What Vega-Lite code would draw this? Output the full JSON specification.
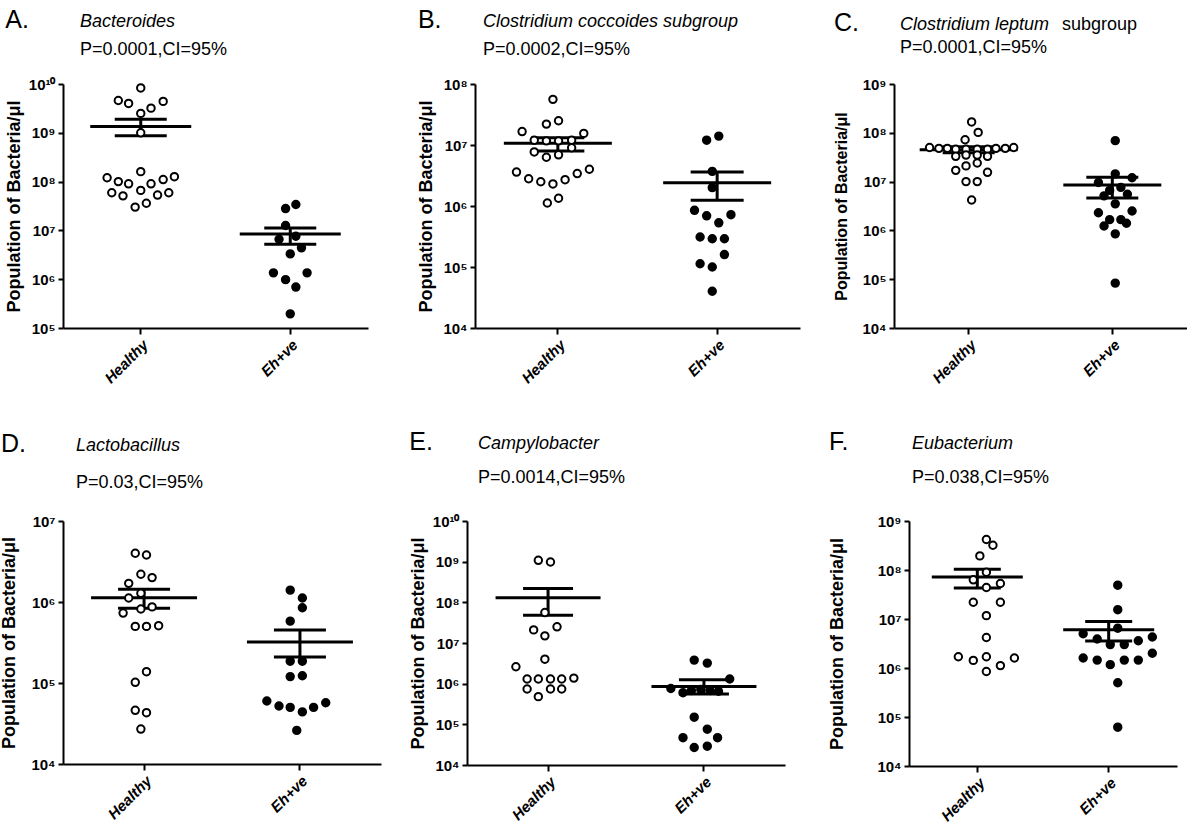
{
  "$schema": "https://vega.github.io/schema/vega-lite/v6.json",
  "background": "white",
  "padding": {"left": 0, "top": 8, "right": 0, "bottom": 0},
  "datasets": {
    "points": [
      {"panel":"A","group":"Healthy","jitter":0,"value":8.3e9},
      {"panel":"A","group":"Healthy","jitter":-24,"value":4.6e9},
      {"panel":"A","group":"Healthy","jitter":-13,"value":4.0e9},
      {"panel":"A","group":"Healthy","jitter":0,"value":2.5e9},
      {"panel":"A","group":"Healthy","jitter":11,"value":3.2e9},
      {"panel":"A","group":"Healthy","jitter":24,"value":4.4e9},
      {"panel":"A","group":"Healthy","jitter":0,"value":1.0e9},
      {"panel":"A","group":"Healthy","jitter":0,"value":1.6e8},
      {"panel":"A","group":"Healthy","jitter":-36,"value":1.2e8},
      {"panel":"A","group":"Healthy","jitter":-24,"value":1.0e8},
      {"panel":"A","group":"Healthy","jitter":-13,"value":9.0e7},
      {"panel":"A","group":"Healthy","jitter":11,"value":9.0e7},
      {"panel":"A","group":"Healthy","jitter":24,"value":1.1e8},
      {"panel":"A","group":"Healthy","jitter":36,"value":1.26e8},
      {"panel":"A","group":"Healthy","jitter":-31,"value":5.9e7},
      {"panel":"A","group":"Healthy","jitter":-19,"value":5.1e7},
      {"panel":"A","group":"Healthy","jitter":0,"value":6.6e7},
      {"panel":"A","group":"Healthy","jitter":18,"value":5.3e7},
      {"panel":"A","group":"Healthy","jitter":30,"value":5.9e7},
      {"panel":"A","group":"Healthy","jitter":-6,"value":3.0e7},
      {"panel":"A","group":"Healthy","jitter":6,"value":3.6e7},
      {"panel":"A","group":"Eh+ve","jitter":-5,"value":2.8e7},
      {"panel":"A","group":"Eh+ve","jitter":6,"value":3.4e7},
      {"panel":"A","group":"Eh+ve","jitter":-5,"value":1.26e7},
      {"panel":"A","group":"Eh+ve","jitter":-12,"value":6.6e6},
      {"panel":"A","group":"Eh+ve","jitter":6,"value":7.6e6},
      {"panel":"A","group":"Eh+ve","jitter":12,"value":4.4e6},
      {"panel":"A","group":"Eh+ve","jitter":0,"value":3.3e6},
      {"panel":"A","group":"Eh+ve","jitter":-18,"value":1.35e6},
      {"panel":"A","group":"Eh+ve","jitter":18,"value":1.35e6},
      {"panel":"A","group":"Eh+ve","jitter":-5,"value":9.8e5},
      {"panel":"A","group":"Eh+ve","jitter":6,"value":6.9e5},
      {"panel":"A","group":"Eh+ve","jitter":0,"value":1.95e5},

      {"panel":"B","group":"Healthy","jitter":0,"value":5.6e7},
      {"panel":"B","group":"Healthy","jitter":-7,"value":2.2e7},
      {"panel":"B","group":"Healthy","jitter":6,"value":2.5e7},
      {"panel":"B","group":"Healthy","jitter":-33,"value":1.66e7},
      {"panel":"B","group":"Healthy","jitter":33,"value":1.55e7},
      {"panel":"B","group":"Healthy","jitter":-20,"value":1.2e7},
      {"panel":"B","group":"Healthy","jitter":-7,"value":1.17e7},
      {"panel":"B","group":"Healthy","jitter":6,"value":1.17e7},
      {"panel":"B","group":"Healthy","jitter":20,"value":1.2e7},
      {"panel":"B","group":"Healthy","jitter":-20,"value":7.7e6},
      {"panel":"B","group":"Healthy","jitter":-7,"value":6.3e6},
      {"panel":"B","group":"Healthy","jitter":6,"value":6.9e6},
      {"panel":"B","group":"Healthy","jitter":20,"value":9.0e6},
      {"panel":"B","group":"Healthy","jitter":-39,"value":3.6e6},
      {"panel":"B","group":"Healthy","jitter":-26,"value":2.8e6},
      {"panel":"B","group":"Healthy","jitter":-13,"value":2.5e6},
      {"panel":"B","group":"Healthy","jitter":0,"value":2.3e6},
      {"panel":"B","group":"Healthy","jitter":13,"value":2.7e6},
      {"panel":"B","group":"Healthy","jitter":26,"value":3.4e6},
      {"panel":"B","group":"Healthy","jitter":39,"value":4.0e6},
      {"panel":"B","group":"Healthy","jitter":-6,"value":1.12e6},
      {"panel":"B","group":"Healthy","jitter":6,"value":1.34e6},
      {"panel":"B","group":"Eh+ve","jitter":-6,"value":1.2e7},
      {"panel":"B","group":"Eh+ve","jitter":7,"value":1.4e7},
      {"panel":"B","group":"Eh+ve","jitter":0,"value":3.7e6},
      {"panel":"B","group":"Eh+ve","jitter":0,"value":2.0e6},
      {"panel":"B","group":"Eh+ve","jitter":-19,"value":8.5e5},
      {"panel":"B","group":"Eh+ve","jitter":-6,"value":6.9e5},
      {"panel":"B","group":"Eh+ve","jitter":7,"value":5.3e5},
      {"panel":"B","group":"Eh+ve","jitter":20,"value":7.2e5},
      {"panel":"B","group":"Eh+ve","jitter":-13,"value":3.1e5},
      {"panel":"B","group":"Eh+ve","jitter":0,"value":2.9e5},
      {"panel":"B","group":"Eh+ve","jitter":13,"value":2.9e5},
      {"panel":"B","group":"Eh+ve","jitter":13,"value":1.6e5},
      {"panel":"B","group":"Eh+ve","jitter":-13,"value":1.13e5},
      {"panel":"B","group":"Eh+ve","jitter":0,"value":1.0e5},
      {"panel":"B","group":"Eh+ve","jitter":0,"value":4.0e4},

      {"panel":"C","group":"Healthy","jitter":0,"value":1.67e8},
      {"panel":"C","group":"Healthy","jitter":7,"value":1.02e8},
      {"panel":"C","group":"Healthy","jitter":-7,"value":7.2e7},
      {"panel":"C","group":"Healthy","jitter":-45,"value":5.0e7},
      {"panel":"C","group":"Healthy","jitter":-35,"value":4.8e7},
      {"panel":"C","group":"Healthy","jitter":-26,"value":4.8e7},
      {"panel":"C","group":"Healthy","jitter":-17,"value":4.6e7},
      {"panel":"C","group":"Healthy","jitter":-6,"value":4.6e7},
      {"panel":"C","group":"Healthy","jitter":6,"value":4.6e7},
      {"panel":"C","group":"Healthy","jitter":17,"value":4.6e7},
      {"panel":"C","group":"Healthy","jitter":26,"value":4.8e7},
      {"panel":"C","group":"Healthy","jitter":36,"value":4.8e7},
      {"panel":"C","group":"Healthy","jitter":45,"value":5.0e7},
      {"panel":"C","group":"Healthy","jitter":-17,"value":3.3e7},
      {"panel":"C","group":"Healthy","jitter":-6,"value":3.5e7},
      {"panel":"C","group":"Healthy","jitter":6,"value":3.5e7},
      {"panel":"C","group":"Healthy","jitter":17,"value":3.3e7},
      {"panel":"C","group":"Healthy","jitter":-6,"value":2.1e7},
      {"panel":"C","group":"Healthy","jitter":6,"value":2.4e7},
      {"panel":"C","group":"Healthy","jitter":-17,"value":1.7e7},
      {"panel":"C","group":"Healthy","jitter":17,"value":1.55e7},
      {"panel":"C","group":"Healthy","jitter":-6,"value":1.0e7},
      {"panel":"C","group":"Healthy","jitter":6,"value":1.0e7},
      {"panel":"C","group":"Healthy","jitter":0,"value":4.2e6},
      {"panel":"C","group":"Eh+ve","jitter":0,"value":6.9e7},
      {"panel":"C","group":"Eh+ve","jitter":0,"value":1.44e7},
      {"panel":"C","group":"Eh+ve","jitter":18,"value":1.2e7},
      {"panel":"C","group":"Eh+ve","jitter":-18,"value":9.6e6},
      {"panel":"C","group":"Eh+ve","jitter":6,"value":7.6e6},
      {"panel":"C","group":"Eh+ve","jitter":-6,"value":6.6e6},
      {"panel":"C","group":"Eh+ve","jitter":13,"value":5.5e6},
      {"panel":"C","group":"Eh+ve","jitter":-12,"value":5.1e6},
      {"panel":"C","group":"Eh+ve","jitter":0,"value":3.5e6},
      {"panel":"C","group":"Eh+ve","jitter":-18,"value":2.3e6},
      {"panel":"C","group":"Eh+ve","jitter":18,"value":2.5e6},
      {"panel":"C","group":"Eh+ve","jitter":-6,"value":1.66e6},
      {"panel":"C","group":"Eh+ve","jitter":6,"value":1.66e6},
      {"panel":"C","group":"Eh+ve","jitter":-12,"value":1.23e6},
      {"panel":"C","group":"Eh+ve","jitter":12,"value":1.4e6},
      {"panel":"C","group":"Eh+ve","jitter":0,"value":8.5e5},
      {"panel":"C","group":"Eh+ve","jitter":0,"value":8.3e4},

      {"panel":"D","group":"Healthy","jitter":-6,"value":4.0e6},
      {"panel":"D","group":"Healthy","jitter":6,"value":3.8e6},
      {"panel":"D","group":"Healthy","jitter":0,"value":2.2e6},
      {"panel":"D","group":"Healthy","jitter":12,"value":2.0e6},
      {"panel":"D","group":"Healthy","jitter":-13,"value":1.7e6},
      {"panel":"D","group":"Healthy","jitter":0,"value":1.28e6},
      {"panel":"D","group":"Healthy","jitter":-13,"value":1.12e6},
      {"panel":"D","group":"Healthy","jitter":0,"value":8.2e5},
      {"panel":"D","group":"Healthy","jitter":12,"value":8.7e5},
      {"panel":"D","group":"Healthy","jitter":-19,"value":7.3e5},
      {"panel":"D","group":"Healthy","jitter":-6,"value":5.0e5},
      {"panel":"D","group":"Healthy","jitter":6,"value":5.0e5},
      {"panel":"D","group":"Healthy","jitter":19,"value":5.1e5},
      {"panel":"D","group":"Healthy","jitter":6,"value":1.38e5},
      {"panel":"D","group":"Healthy","jitter":-6,"value":1.02e5},
      {"panel":"D","group":"Healthy","jitter":-6,"value":4.6e4},
      {"panel":"D","group":"Healthy","jitter":6,"value":4.3e4},
      {"panel":"D","group":"Healthy","jitter":0,"value":2.7e4},
      {"panel":"D","group":"Eh+ve","jitter":-7,"value":1.4e6},
      {"panel":"D","group":"Eh+ve","jitter":6,"value":1.12e6},
      {"panel":"D","group":"Eh+ve","jitter":6,"value":8.5e5},
      {"panel":"D","group":"Eh+ve","jitter":-7,"value":5.8e5},
      {"panel":"D","group":"Eh+ve","jitter":-7,"value":1.86e5},
      {"panel":"D","group":"Eh+ve","jitter":6,"value":1.86e5},
      {"panel":"D","group":"Eh+ve","jitter":-7,"value":1.2e5},
      {"panel":"D","group":"Eh+ve","jitter":6,"value":1.23e5},
      {"panel":"D","group":"Eh+ve","jitter":-32,"value":6.0e4},
      {"panel":"D","group":"Eh+ve","jitter":-19,"value":5.2e4},
      {"panel":"D","group":"Eh+ve","jitter":-7,"value":5.0e4},
      {"panel":"D","group":"Eh+ve","jitter":6,"value":4.4e4},
      {"panel":"D","group":"Eh+ve","jitter":18,"value":5.0e4},
      {"panel":"D","group":"Eh+ve","jitter":31,"value":5.7e4},
      {"panel":"D","group":"Eh+ve","jitter":0,"value":2.6e4},

      {"panel":"E","group":"Healthy","jitter":-7,"value":1.08e9},
      {"panel":"E","group":"Healthy","jitter":6,"value":9.8e8},
      {"panel":"E","group":"Healthy","jitter":0,"value":5.6e7},
      {"panel":"E","group":"Healthy","jitter":-12,"value":2.1e7},
      {"panel":"E","group":"Healthy","jitter":13,"value":2.5e7},
      {"panel":"E","group":"Healthy","jitter":0,"value":1.5e7},
      {"panel":"E","group":"Healthy","jitter":0,"value":4.0e6},
      {"panel":"E","group":"Healthy","jitter":-31,"value":2.6e6},
      {"panel":"E","group":"Healthy","jitter":-19,"value":1.3e6},
      {"panel":"E","group":"Healthy","jitter":-7,"value":1.3e6},
      {"panel":"E","group":"Healthy","jitter":6,"value":1.3e6},
      {"panel":"E","group":"Healthy","jitter":18,"value":1.3e6},
      {"panel":"E","group":"Healthy","jitter":31,"value":1.37e6},
      {"panel":"E","group":"Healthy","jitter":-19,"value":7.4e5},
      {"panel":"E","group":"Healthy","jitter":6,"value":7.4e5},
      {"panel":"E","group":"Healthy","jitter":18,"value":7.4e5},
      {"panel":"E","group":"Healthy","jitter":-7,"value":4.8e5},
      {"panel":"E","group":"Eh+ve","jitter":-7,"value":3.8e6},
      {"panel":"E","group":"Eh+ve","jitter":7,"value":3.2e6},
      {"panel":"E","group":"Eh+ve","jitter":31,"value":1.3e6},
      {"panel":"E","group":"Eh+ve","jitter":-32,"value":7.6e5},
      {"panel":"E","group":"Eh+ve","jitter":-19,"value":6.0e5},
      {"panel":"E","group":"Eh+ve","jitter":-10,"value":6.8e5},
      {"panel":"E","group":"Eh+ve","jitter":0,"value":7.2e5},
      {"panel":"E","group":"Eh+ve","jitter":10,"value":6.8e5},
      {"panel":"E","group":"Eh+ve","jitter":19,"value":6.5e5},
      {"panel":"E","group":"Eh+ve","jitter":-7,"value":1.5e5},
      {"panel":"E","group":"Eh+ve","jitter":7,"value":7.6e4},
      {"panel":"E","group":"Eh+ve","jitter":-19,"value":4.7e4},
      {"panel":"E","group":"Eh+ve","jitter":18,"value":4.7e4},
      {"panel":"E","group":"Eh+ve","jitter":-7,"value":2.7e4},
      {"panel":"E","group":"Eh+ve","jitter":7,"value":2.9e4},

      {"panel":"F","group":"Healthy","jitter":0,"value":4.2e8},
      {"panel":"F","group":"Healthy","jitter":7,"value":3.2e8},
      {"panel":"F","group":"Healthy","jitter":-7,"value":1.94e8},
      {"panel":"F","group":"Healthy","jitter":0,"value":9.0e7},
      {"panel":"F","group":"Healthy","jitter":-14,"value":6.3e7},
      {"panel":"F","group":"Healthy","jitter":0,"value":4.4e7},
      {"panel":"F","group":"Healthy","jitter":15,"value":5.3e7},
      {"panel":"F","group":"Healthy","jitter":-14,"value":2.2e7},
      {"panel":"F","group":"Healthy","jitter":15,"value":2.2e7},
      {"panel":"F","group":"Healthy","jitter":0,"value":1.17e7},
      {"panel":"F","group":"Healthy","jitter":0,"value":4.2e6},
      {"panel":"F","group":"Healthy","jitter":-30,"value":1.7e6},
      {"panel":"F","group":"Healthy","jitter":-14,"value":1.43e6},
      {"panel":"F","group":"Healthy","jitter":0,"value":1.7e6},
      {"panel":"F","group":"Healthy","jitter":30,"value":1.6e6},
      {"panel":"F","group":"Healthy","jitter":15,"value":1.12e6},
      {"panel":"F","group":"Healthy","jitter":0,"value":8.5e5},
      {"panel":"F","group":"Eh+ve","jitter":0,"value":4.9e7},
      {"panel":"F","group":"Eh+ve","jitter":0,"value":1.55e7},
      {"panel":"F","group":"Eh+ve","jitter":0,"value":6.5e6},
      {"panel":"F","group":"Eh+ve","jitter":-37,"value":5.0e6},
      {"panel":"F","group":"Eh+ve","jitter":-22,"value":3.9e6},
      {"panel":"F","group":"Eh+ve","jitter":-8,"value":3.0e6},
      {"panel":"F","group":"Eh+ve","jitter":7,"value":3.0e6},
      {"panel":"F","group":"Eh+ve","jitter":22,"value":3.6e6},
      {"panel":"F","group":"Eh+ve","jitter":37,"value":4.3e6},
      {"panel":"F","group":"Eh+ve","jitter":-37,"value":1.6e6},
      {"panel":"F","group":"Eh+ve","jitter":-22,"value":1.45e6},
      {"panel":"F","group":"Eh+ve","jitter":-8,"value":1.17e6},
      {"panel":"F","group":"Eh+ve","jitter":7,"value":1.45e6},
      {"panel":"F","group":"Eh+ve","jitter":22,"value":1.45e6},
      {"panel":"F","group":"Eh+ve","jitter":37,"value":2.0e6},
      {"panel":"F","group":"Eh+ve","jitter":0,"value":5.0e5},
      {"panel":"F","group":"Eh+ve","jitter":0,"value":6.2e4}
    ],
    "stats": [
      {"panel":"A","group":"Healthy","mean":1.35e9,"lo":8.7e8,"hi":1.9e9},
      {"panel":"A","group":"Eh+ve","mean":8.4e6,"lo":5.2e6,"hi":1.12e7},
      {"panel":"B","group":"Healthy","mean":1.07e7,"lo":8.0e6,"hi":1.32e7},
      {"panel":"B","group":"Eh+ve","mean":2.4e6,"lo":1.24e6,"hi":3.6e6},
      {"panel":"C","group":"Healthy","mean":4.5e7,"lo":3.9e7,"hi":5.2e7},
      {"panel":"C","group":"Eh+ve","mean":8.5e6,"lo":4.6e6,"hi":1.23e7},
      {"panel":"D","group":"Healthy","mean":1.13e6,"lo":8.4e5,"hi":1.44e6},
      {"panel":"D","group":"Eh+ve","mean":3.2e5,"lo":2.1e5,"hi":4.5e5},
      {"panel":"E","group":"Healthy","mean":1.3e8,"lo":4.8e7,"hi":2.2e8},
      {"panel":"E","group":"Eh+ve","mean":8.5e5,"lo":5.6e5,"hi":1.25e6},
      {"panel":"F","group":"Healthy","mean":7.2e7,"lo":4.3e7,"hi":1.03e8},
      {"panel":"F","group":"Eh+ve","mean":6.0e6,"lo":3.55e6,"hi":8.9e6}
    ]
  },
  "spacing": 44,
  "vconcat": [
    {
      "spacing": 49,
      "hconcat": [
        {
          "title": {"text": "A.", "fontSize": 25, "anchor": "start", "frame": "bounds", "offset": 0, "dy": 20},
          "vconcat": [{
            "width": 305, "height": 244,
            "title": {"text": "Bacteroides", "subtitle": "P=0.0001,CI=95%", "fontStyle": "italic", "frame": "group", "dx": 17, "offset": 18, "subtitlePadding": 10},
            "layer": [
              {"data": {"name": "stats"}, "transform": [{"filter": "datum.panel === 'A'"}],
               "layer": [
                 {"mark": {"type": "tick", "size": 101, "thickness": 3, "color": "black", "opacity": 1},
                  "encoding": {"x": {"field": "group", "type": "nominal", "title": null, "scale": {"type": "band", "domain": ["Healthy", "Eh+ve"], "paddingInner": 0, "paddingOuter": 0.02}},
                               "y": {"field": "mean", "type": "quantitative", "title": "Population of Bacteria/μl"}}},
                 {"mark": {"type": "tick", "size": 52, "thickness": 3, "color": "black", "opacity": 1},
                  "encoding": {"x": {"field": "group", "type": "nominal", "title": null},
                               "y": {"field": "hi", "type": "quantitative", "title": "Population of Bacteria/μl"}}},
                 {"mark": {"type": "tick", "size": 52, "thickness": 3, "color": "black", "opacity": 1},
                  "encoding": {"x": {"field": "group", "type": "nominal", "title": null},
                               "y": {"field": "lo", "type": "quantitative", "title": "Population of Bacteria/μl"}}},
                 {"mark": {"type": "rule", "strokeWidth": 3, "color": "black"},
                  "encoding": {"x": {"field": "group", "type": "nominal", "title": null},
                               "y": {"field": "lo", "type": "quantitative", "title": "Population of Bacteria/μl"}, "y2": {"field": "hi"}}}
               ]},
              {"data": {"name": "points"}, "transform": [{"filter": "datum.panel === 'A'"}],
               "mark": {"type": "circle", "size": 55, "stroke": "black", "strokeWidth": 2, "opacity": 1},
               "encoding": {
                 "x": {"field": "group", "type": "nominal", "title": null},
                 "xOffset": {"field": "jitter", "type": "quantitative", "scale": {"domain": [-75, 75]}},
                 "y": {"field": "value", "type": "quantitative", "title": "Population of Bacteria/μl",
                       "scale": {"type": "log", "domain": [1e5, 1e10], "nice": false},
                       "axis": {"values": [1e5, 1e6, 1e7, 1e8, 1e9, 1e10], "titlePadding": 5, "labelExpr": "'10' + (round(log(datum.value)/LN10) == 10 ? '¹⁰' : substring('⁰¹²³⁴⁵⁶⁷⁸⁹', round(log(datum.value)/LN10), round(log(datum.value)/LN10) + 1))"}},
                 "fill": {"condition": {"test": "datum.group === 'Eh+ve'", "value": "black"}, "value": "white"}
               }}
            ]
          }]
        },
        {
          "spacing": 33,
          "hconcat": [
            {
              "title": {"text": "B.", "fontSize": 25, "anchor": "start", "frame": "bounds", "offset": 0, "dy": 20},
              "vconcat": [{
                "width": 325, "height": 244,
                "title": {"text": "Clostridium coccoides subgroup", "subtitle": "P=0.0002,CI=95%", "fontStyle": "italic", "frame": "group", "dx": 8, "offset": 18, "subtitlePadding": 10},
                "layer": [
                  {"data": {"name": "stats"}, "transform": [{"filter": "datum.panel === 'B'"}],
                   "layer": [
                     {"mark": {"type": "tick", "size": 108, "thickness": 3, "color": "black", "opacity": 1},
                      "encoding": {"x": {"field": "group", "type": "nominal", "title": null, "scale": {"type": "band", "domain": ["Healthy", "Eh+ve"], "paddingInner": 0, "paddingOuter": 0.02}},
                                   "y": {"field": "mean", "type": "quantitative", "title": "Population of Bacteria/μl"}}},
                     {"mark": {"type": "tick", "size": 53, "thickness": 3, "color": "black", "opacity": 1},
                      "encoding": {"x": {"field": "group", "type": "nominal", "title": null},
                                   "y": {"field": "hi", "type": "quantitative", "title": "Population of Bacteria/μl"}}},
                     {"mark": {"type": "tick", "size": 53, "thickness": 3, "color": "black", "opacity": 1},
                      "encoding": {"x": {"field": "group", "type": "nominal", "title": null},
                                   "y": {"field": "lo", "type": "quantitative", "title": "Population of Bacteria/μl"}}},
                     {"mark": {"type": "rule", "strokeWidth": 3, "color": "black"},
                      "encoding": {"x": {"field": "group", "type": "nominal", "title": null},
                                   "y": {"field": "lo", "type": "quantitative", "title": "Population of Bacteria/μl"}, "y2": {"field": "hi"}}}
                   ]},
                  {"data": {"name": "points"}, "transform": [{"filter": "datum.panel === 'B'"}],
                   "mark": {"type": "circle", "size": 55, "stroke": "black", "strokeWidth": 2, "opacity": 1},
                   "encoding": {
                     "x": {"field": "group", "type": "nominal", "title": null},
                     "xOffset": {"field": "jitter", "type": "quantitative", "scale": {"domain": [-80, 80]}},
                     "y": {"field": "value", "type": "quantitative", "title": "Population of Bacteria/μl",
                           "scale": {"type": "log", "domain": [1e4, 1e8], "nice": false},
                           "axis": {"values": [1e4, 1e5, 1e6, 1e7, 1e8], "titlePadding": 7, "labelExpr": "'10' + (round(log(datum.value)/LN10) == 10 ? '¹⁰' : substring('⁰¹²³⁴⁵⁶⁷⁸⁹', round(log(datum.value)/LN10), round(log(datum.value)/LN10) + 1))"}},
                     "fill": {"condition": {"test": "datum.group === 'Eh+ve'", "value": "black"}, "value": "white"}
                   }}
                ]
              }]
            },
            {
              "title": {"text": "C.", "fontSize": 25, "anchor": "start", "frame": "bounds", "offset": 0, "dy": 20},
              "vconcat": [{
                "title": {"text": "subgroup", "fontStyle": "normal", "anchor": "start", "frame": "bounds", "offset": -18, "dx": 228},
                "vconcat": [{
                  "width": 293, "height": 244,
                  "title": {"text": "Clostridium leptum", "subtitle": "P=0.0001,CI=95%", "fontStyle": "italic", "frame": "group", "dx": 6, "offset": 20, "subtitlePadding": 5},
                  "layer": [
                    {"data": {"name": "stats"}, "transform": [{"filter": "datum.panel === 'C'"}],
                     "layer": [
                       {"mark": {"type": "tick", "size": 98, "thickness": 3, "color": "black", "opacity": 1},
                        "encoding": {"x": {"field": "group", "type": "nominal", "title": null, "scale": {"type": "band", "domain": ["Healthy", "Eh+ve"], "paddingInner": 0, "paddingOuter": 0.02}},
                                     "y": {"field": "mean", "type": "quantitative", "title": "Population of Bacteria/μl"}}},
                       {"mark": {"type": "tick", "size": 52, "thickness": 3, "color": "black", "opacity": 1},
                        "encoding": {"x": {"field": "group", "type": "nominal", "title": null},
                                     "y": {"field": "hi", "type": "quantitative", "title": "Population of Bacteria/μl"}}},
                       {"mark": {"type": "tick", "size": 52, "thickness": 3, "color": "black", "opacity": 1},
                        "encoding": {"x": {"field": "group", "type": "nominal", "title": null},
                                     "y": {"field": "lo", "type": "quantitative", "title": "Population of Bacteria/μl"}}},
                       {"mark": {"type": "rule", "strokeWidth": 3, "color": "black"},
                        "encoding": {"x": {"field": "group", "type": "nominal", "title": null},
                                     "y": {"field": "lo", "type": "quantitative", "title": "Population of Bacteria/μl"}, "y2": {"field": "hi"}}}
                     ]},
                    {"data": {"name": "points"}, "transform": [{"filter": "datum.panel === 'C'"}],
                     "mark": {"type": "circle", "size": 55, "stroke": "black", "strokeWidth": 2, "opacity": 1},
                     "encoding": {
                       "x": {"field": "group", "type": "nominal", "title": null},
                       "xOffset": {"field": "jitter", "type": "quantitative", "scale": {"domain": [-72, 72]}},
                       "y": {"field": "value", "type": "quantitative", "title": "Population of Bacteria/μl",
                             "scale": {"type": "log", "domain": [1e4, 1e9], "nice": false},
                             "axis": {"values": [1e4, 1e5, 1e6, 1e7, 1e8, 1e9], "titleFontSize": 16, "titlePadding": 12, "labelExpr": "'10' + (round(log(datum.value)/LN10) == 10 ? '¹⁰' : substring('⁰¹²³⁴⁵⁶⁷⁸⁹', round(log(datum.value)/LN10), round(log(datum.value)/LN10) + 1))"}},
                       "fill": {"condition": {"test": "datum.group === 'Eh+ve'", "value": "black"}, "value": "white"}
                     }}
                  ]
                }]
              }]
            }
          ]
        }
      ]
    },
    {
      "spacing": 43,
      "hconcat": [
        {
          "spacing": 28,
          "hconcat": [
            {
              "title": {"text": "D.", "fontSize": 25, "anchor": "start", "frame": "bounds", "offset": 0, "dy": 20},
              "vconcat": [{
                "width": 318, "height": 243,
                "title": {"text": "Lactobacillus", "subtitle": "P=0.03,CI=95%", "fontStyle": "italic", "frame": "group", "dx": 13, "offset": 22, "subtitlePadding": 19},
                "layer": [
                  {"data": {"name": "stats"}, "transform": [{"filter": "datum.panel === 'D'"}],
                   "layer": [
                     {"mark": {"type": "tick", "size": 106, "thickness": 3, "color": "black", "opacity": 1},
                      "encoding": {"x": {"field": "group", "type": "nominal", "title": null, "scale": {"type": "band", "domain": ["Healthy", "Eh+ve"], "paddingInner": 0, "paddingOuter": 0.02}},
                                   "y": {"field": "mean", "type": "quantitative", "title": "Population of Bacteria/μl"}}},
                     {"mark": {"type": "tick", "size": 52, "thickness": 3, "color": "black", "opacity": 1},
                      "encoding": {"x": {"field": "group", "type": "nominal", "title": null},
                                   "y": {"field": "hi", "type": "quantitative", "title": "Population of Bacteria/μl"}}},
                     {"mark": {"type": "tick", "size": 52, "thickness": 3, "color": "black", "opacity": 1},
                      "encoding": {"x": {"field": "group", "type": "nominal", "title": null},
                                   "y": {"field": "lo", "type": "quantitative", "title": "Population of Bacteria/μl"}}},
                     {"mark": {"type": "rule", "strokeWidth": 3, "color": "black"},
                      "encoding": {"x": {"field": "group", "type": "nominal", "title": null},
                                   "y": {"field": "lo", "type": "quantitative", "title": "Population of Bacteria/μl"}, "y2": {"field": "hi"}}}
                   ]},
                  {"data": {"name": "points"}, "transform": [{"filter": "datum.panel === 'D'"}],
                   "mark": {"type": "circle", "size": 55, "stroke": "black", "strokeWidth": 2, "opacity": 1},
                   "encoding": {
                     "x": {"field": "group", "type": "nominal", "title": null},
                     "xOffset": {"field": "jitter", "type": "quantitative", "scale": {"domain": [-78, 78]}},
                     "y": {"field": "value", "type": "quantitative", "title": "Population of Bacteria/μl",
                           "scale": {"type": "log", "domain": [1e4, 1e7], "nice": false},
                           "axis": {"values": [1e4, 1e5, 1e6, 1e7], "titlePadding": 12, "labelExpr": "'10' + (round(log(datum.value)/LN10) == 10 ? '¹⁰' : substring('⁰¹²³⁴⁵⁶⁷⁸⁹', round(log(datum.value)/LN10), round(log(datum.value)/LN10) + 1))"}},
                     "fill": {"condition": {"test": "datum.group === 'Eh+ve'", "value": "black"}, "value": "white"}
                   }}
                ]
              }]
            },
            {
              "title": {"text": "E.", "fontSize": 25, "anchor": "start", "frame": "bounds", "offset": 0, "dy": 20},
              "vconcat": [{
                "width": 318, "height": 244,
                "title": {"text": "Campylobacter", "subtitle": "P=0.0014,CI=95%", "fontStyle": "italic", "frame": "group", "dx": 11, "offset": 27, "subtitlePadding": 16},
                "layer": [
                  {"data": {"name": "stats"}, "transform": [{"filter": "datum.panel === 'E'"}],
                   "layer": [
                     {"mark": {"type": "tick", "size": 105, "thickness": 3, "color": "black", "opacity": 1},
                      "encoding": {"x": {"field": "group", "type": "nominal", "title": null, "scale": {"type": "band", "domain": ["Healthy", "Eh+ve"], "paddingInner": 0, "paddingOuter": 0.02}},
                                   "y": {"field": "mean", "type": "quantitative", "title": "Population of Bacteria/μl"}}},
                     {"mark": {"type": "tick", "size": 50, "thickness": 3, "color": "black", "opacity": 1},
                      "encoding": {"x": {"field": "group", "type": "nominal", "title": null},
                                   "y": {"field": "hi", "type": "quantitative", "title": "Population of Bacteria/μl"}}},
                     {"mark": {"type": "tick", "size": 50, "thickness": 3, "color": "black", "opacity": 1},
                      "encoding": {"x": {"field": "group", "type": "nominal", "title": null},
                                   "y": {"field": "lo", "type": "quantitative", "title": "Population of Bacteria/μl"}}},
                     {"mark": {"type": "rule", "strokeWidth": 3, "color": "black"},
                      "encoding": {"x": {"field": "group", "type": "nominal", "title": null},
                                   "y": {"field": "lo", "type": "quantitative", "title": "Population of Bacteria/μl"}, "y2": {"field": "hi"}}}
                   ]},
                  {"data": {"name": "points"}, "transform": [{"filter": "datum.panel === 'E'"}],
                   "mark": {"type": "circle", "size": 55, "stroke": "black", "strokeWidth": 2, "opacity": 1},
                   "encoding": {
                     "x": {"field": "group", "type": "nominal", "title": null},
                     "xOffset": {"field": "jitter", "type": "quantitative", "scale": {"domain": [-78, 78]}},
                     "y": {"field": "value", "type": "quantitative", "title": "Population of Bacteria/μl",
                           "scale": {"type": "log", "domain": [1e4, 1e10], "nice": false},
                           "axis": {"values": [1e4, 1e5, 1e6, 1e7, 1e8, 1e9, 1e10], "titlePadding": 5, "labelExpr": "'10' + (round(log(datum.value)/LN10) == 10 ? '¹⁰' : substring('⁰¹²³⁴⁵⁶⁷⁸⁹', round(log(datum.value)/LN10), round(log(datum.value)/LN10) + 1))"}},
                     "fill": {"condition": {"test": "datum.group === 'Eh+ve'", "value": "black"}, "value": "white"}
                   }}
                ]
              }]
            }
          ]
        },
        {
          "title": {"text": "F.", "fontSize": 25, "anchor": "start", "frame": "bounds", "offset": 0, "dy": 20},
          "vconcat": [{
            "width": 268, "height": 245,
            "title": {"text": "Eubacterium", "subtitle": "P=0.038,CI=95%", "fontStyle": "italic", "frame": "group", "dx": 3, "offset": 27, "subtitlePadding": 16},
            "layer": [
              {"data": {"name": "stats"}, "transform": [{"filter": "datum.panel === 'F'"}],
               "layer": [
                 {"mark": {"type": "tick", "size": 91, "thickness": 3, "color": "black", "opacity": 1},
                  "encoding": {"x": {"field": "group", "type": "nominal", "title": null, "scale": {"type": "band", "domain": ["Healthy", "Eh+ve"], "paddingInner": 0, "paddingOuter": 0.02}},
                               "y": {"field": "mean", "type": "quantitative", "title": "Population of Bacteria/μl"}}},
                 {"mark": {"type": "tick", "size": 47, "thickness": 3, "color": "black", "opacity": 1},
                  "encoding": {"x": {"field": "group", "type": "nominal", "title": null},
                               "y": {"field": "hi", "type": "quantitative", "title": "Population of Bacteria/μl"}}},
                 {"mark": {"type": "tick", "size": 47, "thickness": 3, "color": "black", "opacity": 1},
                  "encoding": {"x": {"field": "group", "type": "nominal", "title": null},
                               "y": {"field": "lo", "type": "quantitative", "title": "Population of Bacteria/μl"}}},
                 {"mark": {"type": "rule", "strokeWidth": 3, "color": "black"},
                  "encoding": {"x": {"field": "group", "type": "nominal", "title": null},
                               "y": {"field": "lo", "type": "quantitative", "title": "Population of Bacteria/μl"}, "y2": {"field": "hi"}}}
               ]},
              {"data": {"name": "points"}, "transform": [{"filter": "datum.panel === 'F'"}],
               "mark": {"type": "circle", "size": 55, "stroke": "black", "strokeWidth": 2, "opacity": 1},
               "encoding": {
                 "x": {"field": "group", "type": "nominal", "title": null},
                 "xOffset": {"field": "jitter", "type": "quantitative", "scale": {"domain": [-66, 66]}},
                 "y": {"field": "value", "type": "quantitative", "title": "Population of Bacteria/μl",
                       "scale": {"type": "log", "domain": [1e4, 1e9], "nice": false},
                       "axis": {"values": [1e4, 1e5, 1e6, 1e7, 1e8, 1e9], "titlePadding": 30, "labelExpr": "'10' + (round(log(datum.value)/LN10) == 10 ? '¹⁰' : substring('⁰¹²³⁴⁵⁶⁷⁸⁹', round(log(datum.value)/LN10), round(log(datum.value)/LN10) + 1))"}},
                 "fill": {"condition": {"test": "datum.group === 'Eh+ve'", "value": "black"}, "value": "white"}
               }}
            ]
          }]
        }
      ]
    }
  ],
  "config": {
    "view": {"stroke": null},
    "font": "Liberation Sans",
    "title": {"font": "Liberation Sans", "fontSize": 18, "fontWeight": "normal", "color": "black", "anchor": "start",
              "subtitleFont": "Liberation Sans", "subtitleFontSize": 18, "subtitleColor": "black", "subtitleFontStyle": "normal"},
    "axis": {"domainColor": "black", "domainWidth": 2, "tickColor": "black", "tickWidth": 2, "tickSize": 5,
             "labelColor": "black", "labelFont": "Liberation Sans", "labelFontSize": 15, "labelFontWeight": "bold",
             "titleColor": "black", "titleFont": "Liberation Sans", "titleFontSize": 18, "titleFontWeight": "bold", "grid": false},
    "axisX": {"labelAngle": -45, "labelFontStyle": "italic", "tickSize": 6, "labelPadding": 3},
    "axisY": {"titlePadding": 4, "labelPadding": 3}
  }
}
